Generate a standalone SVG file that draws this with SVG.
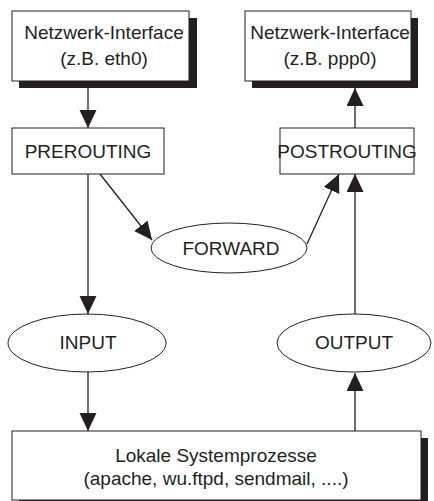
<svg xmlns="http://www.w3.org/2000/svg" width="434" height="501" viewBox="0 0 434 501">
<style>
.box{fill:#fff;stroke:#231f20;stroke-width:1}
.shadow{fill:#231f20}
.t{font-family:"Liberation Sans",Arial,sans-serif;font-size:19px;fill:#231f20;text-anchor:middle}
.c{fill:none;stroke:#231f20;stroke-width:1.3}
</style>
<defs>
<marker id="ah" markerUnits="userSpaceOnUse" markerWidth="18" markerHeight="18" viewBox="0 0 18 18" refX="18" refY="8.5" orient="auto">
<path d="M0,0 L18,8.5 L0,17 Z" fill="#231f20"/>
</marker>
</defs>
<rect width="434" height="501" fill="#fff"/>
<g id="connectors">
<line class="c" x1="88" y1="88" x2="88" y2="128" marker-end="url(#ah)"/>
<line class="c" x1="355" y1="128" x2="355" y2="88" marker-end="url(#ah)"/>
<line class="c" x1="100" y1="174" x2="152" y2="240" marker-end="url(#ah)"/>
<line class="c" x1="307" y1="244" x2="339" y2="174" marker-end="url(#ah)"/>
<line class="c" x1="88" y1="174" x2="88" y2="314" marker-end="url(#ah)"/>
<line class="c" x1="88" y1="372" x2="88" y2="431" marker-end="url(#ah)"/>
<line class="c" x1="355" y1="431" x2="355" y2="373" marker-end="url(#ah)"/>
<line class="c" x1="355" y1="314" x2="355" y2="174" marker-end="url(#ah)"/>
</g>
<g id="eth0">
<rect class="shadow" x="19" y="18" width="178" height="70"/>
<rect class="box" x="12" y="11" width="177" height="70"/>
<text class="t" x="104" y="39">Netzwerk-Interface</text>
<text class="t" x="104" y="65">(z.B. eth0)</text>
</g>
<g id="ppp0">
<rect class="shadow" x="252" y="18" width="166" height="70"/>
<rect class="box" x="245" y="11" width="166" height="70"/>
<text class="t" x="330" y="39">Netzwerk-Interface</text>
<text class="t" x="330" y="65">(z.B.  ppp0)</text>
</g>
<g id="prerouting">
<rect class="box" x="12" y="128" width="152" height="46"/>
<text class="t" x="88" y="158">PREROUTING</text>
</g>
<g id="postrouting">
<rect class="box" x="280" y="128" width="134" height="46"/>
<text class="t" x="347" y="158">POSTROUTING</text>
</g>
<g id="forward">
<ellipse class="box" cx="229" cy="248" rx="78" ry="25"/>
<text class="t" x="231" y="255">FORWARD</text>
</g>
<g id="input">
<ellipse class="box" cx="87" cy="343" rx="79" ry="29"/>
<text class="t" x="88" y="349">INPUT</text>
</g>
<g id="output">
<ellipse class="box" cx="354" cy="343" rx="77" ry="29"/>
<text class="t" x="354" y="349">OUTPUT</text>
</g>
<g id="lokale">
<rect class="shadow" x="19" y="438" width="409" height="70"/>
<rect class="box" x="12" y="431" width="409" height="69"/>
<text class="t" x="216" y="462">Lokale Systemprozesse</text>
<text class="t" x="216" y="485">(apache, wu.ftpd, sendmail, ....)</text>
</g>
</svg>
